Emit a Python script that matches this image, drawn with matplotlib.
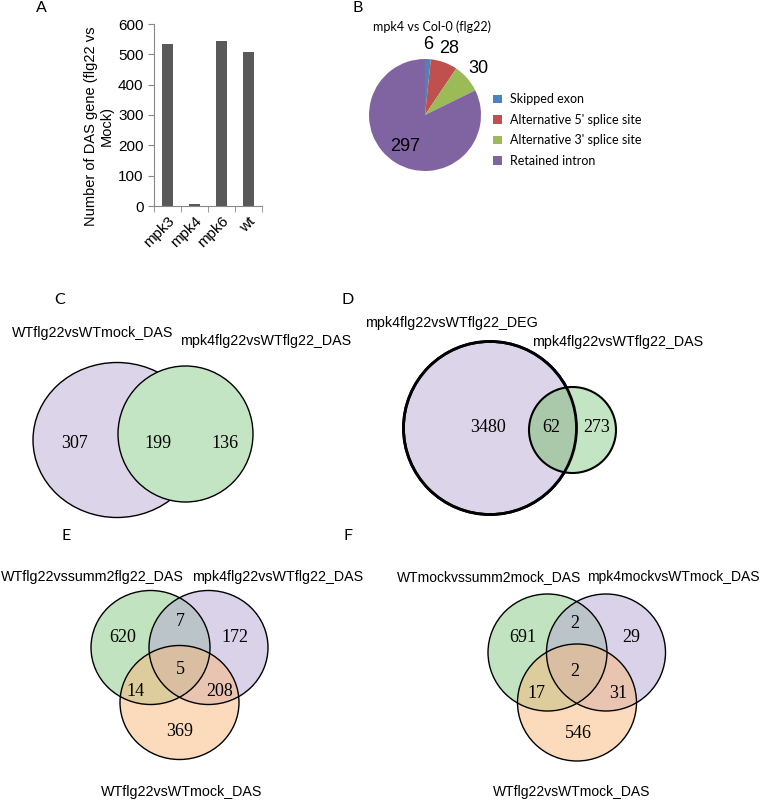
import numpy as np
import matplotlib
matplotlib.use("Agg")
import matplotlib.pyplot as plt
from matplotlib.patches import Ellipse

# ---- data ----
genotypes = ["mpk3", "mpk4", "mpk6", "wt"]
das_counts = [533, 6, 543, 508]

splice_types = ["Skipped exon", "Alternative 5' splice site",
                "Alternative 3' splice site", "Retained intron"]
splice_counts = [6, 28, 30, 297]

venn_c_sets = ["WTflg22vsWTmock_DAS", "mpk4flg22vsWTflg22_DAS"]
venn_c_counts = [307, 199, 136]

venn_d_sets = ["mpk4flg22vsWTflg22_DEG", "mpk4flg22vsWTflg22_DAS"]
venn_d_counts = [3480, 62, 273]

# order: A only, AB, B only, ABC, AC, BC, C only
venn_e_sets = ["WTflg22vssumm2flg22_DAS", "mpk4flg22vsWTflg22_DAS", "WTflg22vsWTmock_DAS"]
venn_e_counts = [620, 7, 172, 5, 14, 208, 369]

venn_f_sets = ["WTmockvssumm2mock_DAS", "mpk4mockvsWTmock_DAS", "WTflg22vsWTmock_DAS"]
venn_f_counts = [691, 2, 29, 2, 17, 31, 546]

W, H = 772, 801
fig = plt.figure(figsize=(W / 100, H / 100), dpi=100)

def box(x0, y0, w, h):
    # pixel box (top-left origin) -> figure fraction
    return [x0 / W, 1 - (y0 + h) / H, w / W, h / H]

# overlay axes in pixel coordinates for venn diagrams and letters
ov = fig.add_axes([0, 0, 1, 1], zorder=0)
ov.set_xlim(0, W)
ov.set_ylim(H, 0)
ov.axis("off")

letter_font = dict(family="Lato", fontsize=11.5, ha="center", va="center")
for t, (x, y) in zip("ABCDEF", [(41, 8), (358, 8), (60, 300), (348, 300), (66, 536), (348, 536)]):
    ov.text(x, y, t, **letter_font)

# ---- A: bar chart ----
ax = fig.add_axes(box(154, 24, 108, 182), zorder=2)
xs = np.arange(len(genotypes))
ax.bar(xs, das_counts, width=0.4, color="#595959")
ax.set_xlim(-0.5, 3.5)
ax.set_ylim(0, 600)
ax.set_yticks(range(0, 601, 100))
ax.set_xticks(xs)
ax.set_xticklabels(genotypes, rotation=45, ha="right", rotation_mode="anchor",
                   family="Liberation Sans", fontsize=11)
ax.set_xticks(np.arange(-0.5, 3.6, 1), minor=True)
ax.tick_params(axis="x", which="major", length=0, pad=6)
ax.tick_params(axis="x", which="minor", length=4, color="#888888")
ax.tick_params(axis="y", length=4, color="#888888", labelsize=11)
for lab in ax.get_yticklabels():
    lab.set_family("Liberation Sans")
for s in ["top", "right"]:
    ax.spines[s].set_visible(False)
for s in ["left", "bottom"]:
    ax.spines[s].set_color("#888888")
ax.set_ylabel("Number of DAS gene (flg22 vs\nMock)", family="Liberation Sans", fontsize=10.5)
ax.yaxis.set_label_coords(-0.37, 0.44)

# ---- B: pie chart ----
R = 56
cx, cy = 425, 115
k = 1.6
pax = fig.add_axes(box(cx - k * R, cy - k * R, 2 * k * R, 2 * k * R), zorder=2)
pie_colors = ["#4F81BD", "#C0504D", "#9BBB59", "#8064A2"]
wedges, _ = pax.pie(splice_counts, colors=pie_colors, startangle=90, counterclock=False,
                    wedgeprops=dict(linewidth=0))
pax.set_xlim(-k, k)
pax.set_ylim(-k, k)
pax.set_aspect("equal")
for i, w in enumerate(wedges):
    ang = np.deg2rad((w.theta1 + w.theta2) / 2)
    r = 1.26 if i < 3 else 0.66
    pax.text(r * np.cos(ang), r * np.sin(ang), str(splice_counts[i]),
             ha="center", va="center", fontsize=13, family="Liberation Sans")
pax.legend(wedges, splice_types, loc="upper left", bbox_to_anchor=(482 / W, 1 - 82 / H),
           bbox_transform=fig.transFigure, frameon=False, prop=dict(family="Lato", size=9),
           handlelength=0.7, handleheight=0.7, handletextpad=0.6, labelspacing=0.68)
fig.text(432 / W, 1 - 27 / H, "mpk4 vs Col-0 (flg22)", ha="center", va="center",
         family="Lato", fontsize=9)

# ---- venn diagrams ----
num_font = dict(family="Liberation Serif", fontsize=13, ha="center", va="center")
lab_font = dict(family="Liberation Sans", fontsize=10.3, va="center")

lav = "#DCD4E8"
grn = "#C3E5C3"

# C
ov.add_patch(Ellipse((117, 440), 168, 155, facecolor=lav, edgecolor="black", lw=1))
ov.add_patch(Ellipse((185.5, 434), 135, 136, facecolor=grn, edgecolor="black", lw=1))
for (x, y), v in zip([(75, 443), (158, 443), (225, 443)], venn_c_counts):
    ov.text(x, y, str(v), **num_font)
ov.text(93, 333, venn_c_sets[0], ha="center", **lab_font)
ov.text(180, 341, venn_c_sets[1], ha="left", **lab_font)

# D
big = Ellipse((490, 428), 173, 173, facecolor=lav, edgecolor="black", lw=2)
ov.add_patch(big)
ov.add_patch(Ellipse((572.5, 430), 87, 86, facecolor=grn, edgecolor="none"))
inter = Ellipse((572.5, 430), 87, 86, facecolor="#A9C9AA", edgecolor="none")
ov.add_patch(inter)
inter.set_clip_path(big)
ov.add_patch(Ellipse((490, 428), 173, 173, facecolor="none", edgecolor="black", lw=2))
ov.add_patch(Ellipse((572.5, 430), 87, 86, facecolor="none", edgecolor="black", lw=1.5))
for (x, y), v in zip([(488, 428), (551, 428), (597, 428)], venn_d_counts):
    ov.text(x, y, str(v), **num_font)
ov.text(365, 323, venn_d_sets[0], ha="left", **lab_font)
ov.text(532, 342, venn_d_sets[1], ha="left", **lab_font)

# E and F: three-set venns
tri_cols = ["#85C981", "#B5A7D3", "#F9B97B"]

def venn3(centers, size, counts, pos, sets, lab_pos, fs):
    for (x, y), c in zip(centers, tri_cols):
        ov.add_patch(Ellipse((x, y), size[0], size[1], facecolor=c, alpha=0.5, edgecolor="none"))
    for (x, y) in centers:
        ov.add_patch(Ellipse((x, y), size[0], size[1], facecolor="none", edgecolor="black", lw=1))
    for (x, y), v in zip(pos, counts):
        ov.text(x, y, str(v), **num_font)
    for (x, y, ha), s in zip(lab_pos, sets):
        ov.text(x, y, s, ha=ha, family="Liberation Sans", fontsize=fs, va="center")

venn3([(150.5, 647.5), (208.5, 647.5), (179.5, 702.5)], (119, 114), venn_e_counts,
      [(123, 637), (180, 622), (235, 637), (180, 669), (135, 692), (220, 692), (180, 732)],
      venn_e_sets, [(1, 577, "left"), (192, 577, "left"), (182, 792, "center")], 10.3)

venn3([(547.5, 652.5), (606, 652.5), (577, 702.5)], (119, 117), venn_f_counts,
      [(523, 638), (575, 623), (631, 638), (575, 672), (536, 693), (618, 693), (578, 733)],
      venn_f_sets, [(581, 577, "right"), (587, 577, "left"), (572, 792, "center")], 10)

fig.savefig("out.png", dpi=100)
